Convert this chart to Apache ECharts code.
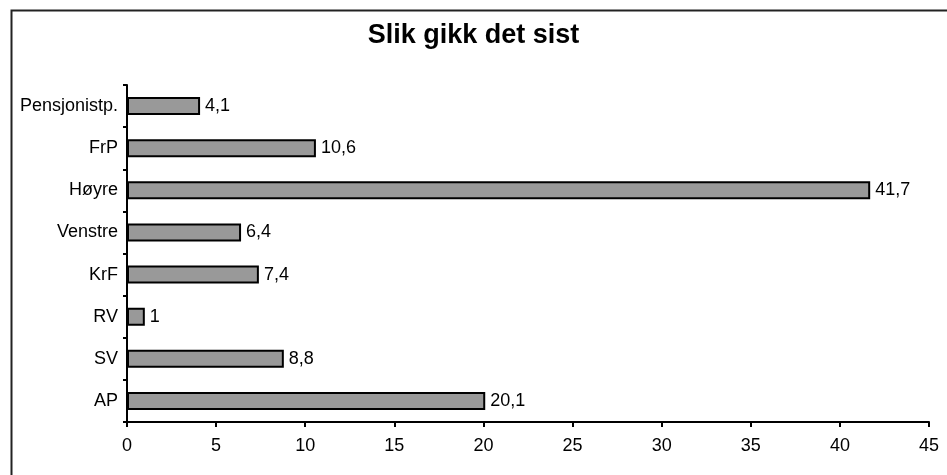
<!DOCTYPE html>
<html>
<head>
<meta charset="utf-8">
<script src="https://cdn.jsdelivr.net/npm/echarts@6/dist/echarts.min.js"></script>
<style>
html,body{margin:0;padding:0;background:#fff;}
#c{width:947px;height:475px;}
</style>
</head>
<body>
<div id="c"></div>
<script>
var categories = ['AP', 'SV', 'RV', 'KrF', 'Venstre', 'Høyre', 'FrP', 'Pensjonistp.'];
var values = [20.1, 8.8, 1, 7.4, 6.4, 41.7, 10.6, 4.1];
var xTicks = [0, 5, 10, 15, 20, 25, 30, 35, 40, 45];

var chart = echarts.init(document.getElementById('c'));
chart.setOption({
  animation: false,
  backgroundColor: '#fff',
  title: {
    text: 'Slik gikk det sist',
    left: 'center',
    top: 17,
    textStyle: { fontFamily: 'Liberation Sans, Arial', fontWeight: 'bold', fontSize: 27, color: '#000' }
  },
  graphic: [{
    type: 'rect',
    shape: { x: 11.5, y: 10.5, width: 960, height: 500 },
    style: { fill: 'none', stroke: '#222', lineWidth: 2 },
    silent: true
  }],
  grid: { left: 127, right: 18, top: 85, bottom: 53, containLabel: false },
  xAxis: {
    type: 'value',
    min: 0, max: 45, interval: 5,
    axisLine: { show: true, lineStyle: { color: '#000', width: 2 } },
    axisTick: { show: true, length: 5, lineStyle: { color: '#000', width: 2 } },
    splitLine: { show: false },
    axisLabel: { color: '#000', fontSize: 18, fontFamily: 'Liberation Sans, Arial', margin: 15,
      formatter: function (v) { return xTicks.indexOf(v) >= 0 ? String(v) : ''; } }
  },
  yAxis: {
    type: 'category',
    data: categories,
    axisLine: { show: true, lineStyle: { color: '#000', width: 2 } },
    axisTick: { show: true, length: 4, lineStyle: { color: '#000', width: 2 } },
    axisLabel: { color: '#000', fontSize: 18, fontFamily: 'Liberation Sans, Arial', margin: 9 }
  },
  series: [{
    type: 'bar',
    data: values,
    barWidth: 18,
    itemStyle: { color: '#999999', borderColor: '#000', borderWidth: 2 },
    label: {
      show: true, position: 'right', distance: 5,
      color: '#000', fontSize: 18, fontFamily: 'Liberation Sans, Arial',
      formatter: function (p) { return String(p.value).replace('.', ','); }
    }
  }]
});
</script>
</body>
</html>
